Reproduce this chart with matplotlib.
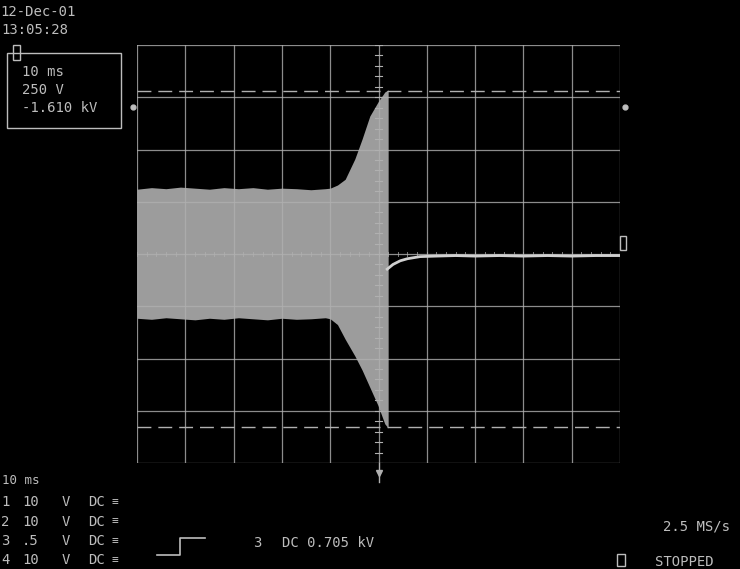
import matplotlib.pyplot as plt
from matplotlib.patches import Rectangle

# écran d'oscilloscope : 10 x 8 divisions
W, H = 740, 569

# enveloppe du signal (en divisions)
env_x = [0.0, 0.3, 0.6, 0.9, 1.2, 1.5, 1.8, 2.1, 2.4, 2.7, 3.0, 3.3, 3.6, 3.9,
         4.0, 4.15, 4.31, 4.51, 4.66, 4.82, 4.99, 5.13, 5.2]
env_top = [1.24, 1.27, 1.25, 1.28, 1.26, 1.24, 1.27, 1.25, 1.27, 1.24, 1.26,
           1.25, 1.23, 1.25, 1.26, 1.32, 1.43, 1.82, 2.2, 2.64, 2.91, 3.1, 3.14]
env_bot = [-1.23, -1.25, -1.22, -1.24, -1.26, -1.23, -1.25, -1.22, -1.24,
           -1.26, -1.23, -1.25, -1.24, -1.22, -1.24, -1.35, -1.63, -1.95,
           -2.22, -2.55, -2.9, -3.25, -3.33]

# retour à zéro après coupure
tail_x = [5.18, 5.3, 5.45, 5.6, 5.86, 6.2, 6.6, 7.0, 7.5, 8.0, 8.5, 9.0, 9.5, 10.0]
tail_y = [-0.29, -0.2, -0.13, -0.09, -0.05, -0.04, -0.03, -0.04, -0.03,
          -0.04, -0.03, -0.04, -0.03, -0.03]

cursor_y = [3.12, -3.31]

top_lines = ["12-Dec-01", "13:05:28"]
box_lines = ["10 ms", "250 V", "-1.610 kV"]
ch_rows = [("1", "10", "DC"), ("2", "10", "DC"), ("3", ".5", "DC"), ("4", "10", "DC")]

FG = '#bdbdbd'
GRID = '#b0b0b0'
MONO = 'DejaVu Sans Mono'


def fx(px):
    return px / W


def fy(py):
    return 1 - py / H


def txt(x, y, s, size=10):
    fig.text(fx(x), fy(y), s, color=FG, family=MONO, fontsize=size,
             va='center', ha='left')


fig = plt.figure(figsize=(7.4, 5.69), dpi=100, facecolor='black')
ax = fig.add_axes([fx(137), fy(463), fx(620) - fx(137), fy(45) - fy(463)])
ax.set_facecolor('black')
ax.set_xlim(0, 10)
ax.set_ylim(-4, 4)
ax.axis('off')

# le signal
ax.fill_between(env_x, env_bot, env_top, color='#9c9c9c', lw=0, zorder=2)
ax.plot(tail_x, tail_y, color='#d0d0d0', lw=2.0, zorder=4)

# grille
for i in range(11):
    ax.axvline(i, color=GRID, lw=0.9, alpha=0.8, zorder=3)
for j in range(-4, 5):
    ax.axhline(j, color=GRID, lw=0.9, alpha=0.8, zorder=3)

# graduations du réticule central
for k in range(-20, 21):
    ax.plot([4.93, 5.07], [k * 0.2, k * 0.2], color=GRID, lw=0.8, zorder=3)
for k in range(0, 51):
    ax.plot([k * 0.2, k * 0.2], [-0.04, 0.04], color=GRID, lw=0.7, alpha=0.7, zorder=3)

# curseurs
for c in cursor_y:
    ax.axhline(c, color=GRID, lw=1.0, dashes=(10, 5), zorder=3)

# repère de déclenchement sous la grille
ax.plot([5, 5], [-4, -4.37], color=GRID, lw=1.0, clip_on=False)
ax.plot([5], [-4.2], marker='v', ms=4, color=GRID, clip_on=False)

# repères de voies
ax.plot([-0.08], [2.81], marker='o', ms=3.5, color=FG, clip_on=False)
ax.plot([10.1], [2.81], marker='o', ms=3.5, color=FG, clip_on=False)
fig.add_artist(Rectangle((fx(620), fy(250)), 6 / W, 14 / H, transform=fig.transFigure,
                         fill=False, ec=FG, lw=1))
fig.add_artist(Rectangle((fx(13), fy(60)), 7 / W, 15 / H, transform=fig.transFigure,
                         fill=False, ec=FG, lw=1))

# textes haut gauche
txt(0, 12, top_lines[0])
txt(1, 30, top_lines[1])
fig.add_artist(Rectangle((fx(7), fy(128)), 114 / W, 75 / H, transform=fig.transFigure,
                         fill=False, ec=FG, lw=1))
for i, s in enumerate(box_lines):
    txt(22, 72 + i * 18, s)

# textes bas
txt(2, 480, "10 ms", 9)
for i, (n, v, cpl) in enumerate(ch_rows):
    y = 502 + i * 19.5
    txt(1, y, n)
    txt(22, y, v)
    txt(62, y, "V")
    txt(88, y, cpl)
    txt(112, y, "\u2261", 8)

# symbole de front montant
fig.add_artist(plt.Line2D([fx(157), fx(180), fx(180), fx(205)],
                          [fy(555), fy(555), fy(538), fy(538)],
                          transform=fig.transFigure, color=FG, lw=1.2))
txt(253, 543, "3")
txt(282, 543, "DC 0.705 kV")

txt(663, 527, "2.5 MS/s")
fig.add_artist(Rectangle((fx(617), fy(566)), 8 / W, 12 / H, transform=fig.transFigure,
                         fill=False, ec=FG, lw=1))
txt(655, 562, "STOPPED")

fig.savefig('out.png', dpi=100, facecolor='black')
